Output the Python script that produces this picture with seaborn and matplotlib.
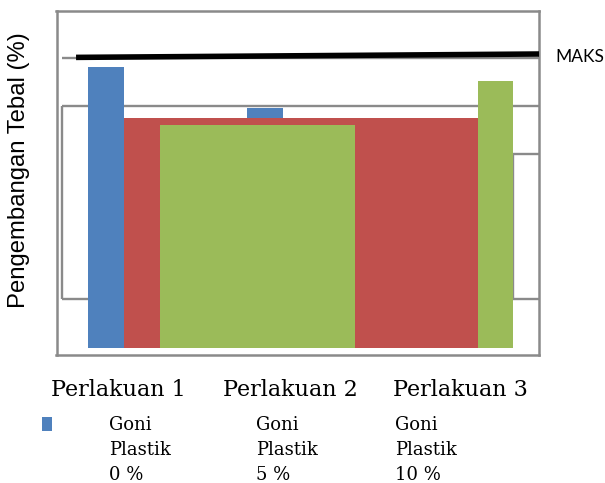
import matplotlib
matplotlib.use("Agg")
import matplotlib.pyplot as plt
import seaborn as sns
import pandas as pd
from matplotlib.patches import Rectangle

# ---------------- data ----------------
categories = ["Perlakuan 1", "Perlakuan 2", "Perlakuan 3"]
series = ["Goni\nPlastik\n0 %", "Goni\nPlastik\n5 %", "Goni\nPlastik\n10 %"]
blue_vals = [5.81, 4.97, 4.70]
red_vals = [4.76, 4.76, 4.76]
green_vals = [4.61, 4.61, 5.52]
maks_vals = [6.01, 6.08]
ylabel = "Pengembangan Tebal (%)"
maks_label = "MAKS"

BLUE, RED, GREEN = "#4f81bd", "#c0504d", "#9bbb59"
GRAY = "#8a8a8a"

sns.set_style("white")
W, H = 605, 483
fig = plt.figure(figsize=(W / 100, H / 100), dpi=100)

def fx(px):
    return px / W

def fy(py):
    return 1 - py / H

ax = fig.add_axes([fx(56.5), fy(355), fx(539) - fx(56.5), fy(11) - fy(355)])

df = pd.DataFrame({
    "cat": [c for c in categories for _ in range(3)],
    "series": ["A", "B", "C"] * 3,
    "val": [v for trio in zip(blue_vals, red_vals, green_vals) for v in trio],
})
df["series"] = pd.Categorical(df["series"], ["A", "B", "C"])
sns.barplot(data=df, x="cat", y="val", hue="series", order=categories,
            hue_order=["A", "B", "C"], palette=[BLUE, RED, GREEN],
            width=0.679, gap=0, errorbar=None, saturation=1,
            linewidth=0, ax=ax, legend=False)

bw = 0.679 / 3
# merged red block from first red bar to last red bar
red_left = 0 - bw / 2
red_right = 2 + bw / 2
ax.bar(red_left, red_vals[0], width=red_right - red_left, align="edge",
       color=RED, linewidth=0, zorder=1)
# merged green block from first green bar to second green bar
g_left = 0 + bw / 2
g_right = 1 + 1.5 * bw
ax.bar(g_left, green_vals[0], width=g_right - g_left, align="edge",
       color=GREEN, linewidth=0, zorder=1)

ax.set_xlim(-0.535, 2.5)
ax.set_ylim(-0.15, 6.97)

# odd gridline fragments
kw = dict(color=GRAY, lw=1.7, zorder=0.5, clip_on=False, solid_capstyle="butt")
ax.plot([-0.5, 2.5], [6, 6], **kw)
ax.plot([-0.5, 2.5], [5, 5], **kw)
ax.plot([-0.5, -0.5], [1, 5], **kw)
ax.plot([-0.5, 2.5], [1, 1], **kw)
ax.plot([2 + 1.5 * bw, 2.5], [4, 4], **kw)
ax.plot([2 + 1.5 * bw, 2 + 1.5 * bw], [1, 4], **kw)

# MAKS line
ax.plot([-0.412, 2.5], maks_vals, color="black", lw=4, zorder=3,
        solid_capstyle="butt", clip_on=False)

ax.set_xticks([])
ax.set_yticks([])
ax.set_xlabel("")
ax.set_ylabel("")
for s in ax.spines.values():
    s.set_visible(True)
    s.set_color(GRAY)
    s.set_linewidth(1.8)

# texts
fig.text(fx(555), fy(62), maks_label, fontsize=12.5, family="Lato",
         ha="left", va="baseline", color="black")
fig.text(fx(19), fy(170), ylabel, fontsize=17.2, family="Liberation Sans",
         rotation=90, ha="center", va="center", color="black")

cat_x = [118, 290, 460]
for c, x in zip(categories, cat_x):
    fig.text(fx(x), fy(396.5), c, fontsize=16, family="DejaVu Serif",
             ha="center", va="baseline", color="black")

leg_x = [109, 256, 395]
for s, x in zip(series, leg_x):
    for i, line in enumerate(s.split("\n")):
        fig.text(fx(x), fy(430 + 25 * i), line, fontsize=13,
                 family="DejaVu Serif", ha="left", va="baseline",
                 color="black")

fig.patches.append(Rectangle((fx(42), fy(431)), fx(10), 14 / H,
                             transform=fig.transFigure, color=BLUE,
                             linewidth=0))

fig.savefig("out.png", dpi=100)
